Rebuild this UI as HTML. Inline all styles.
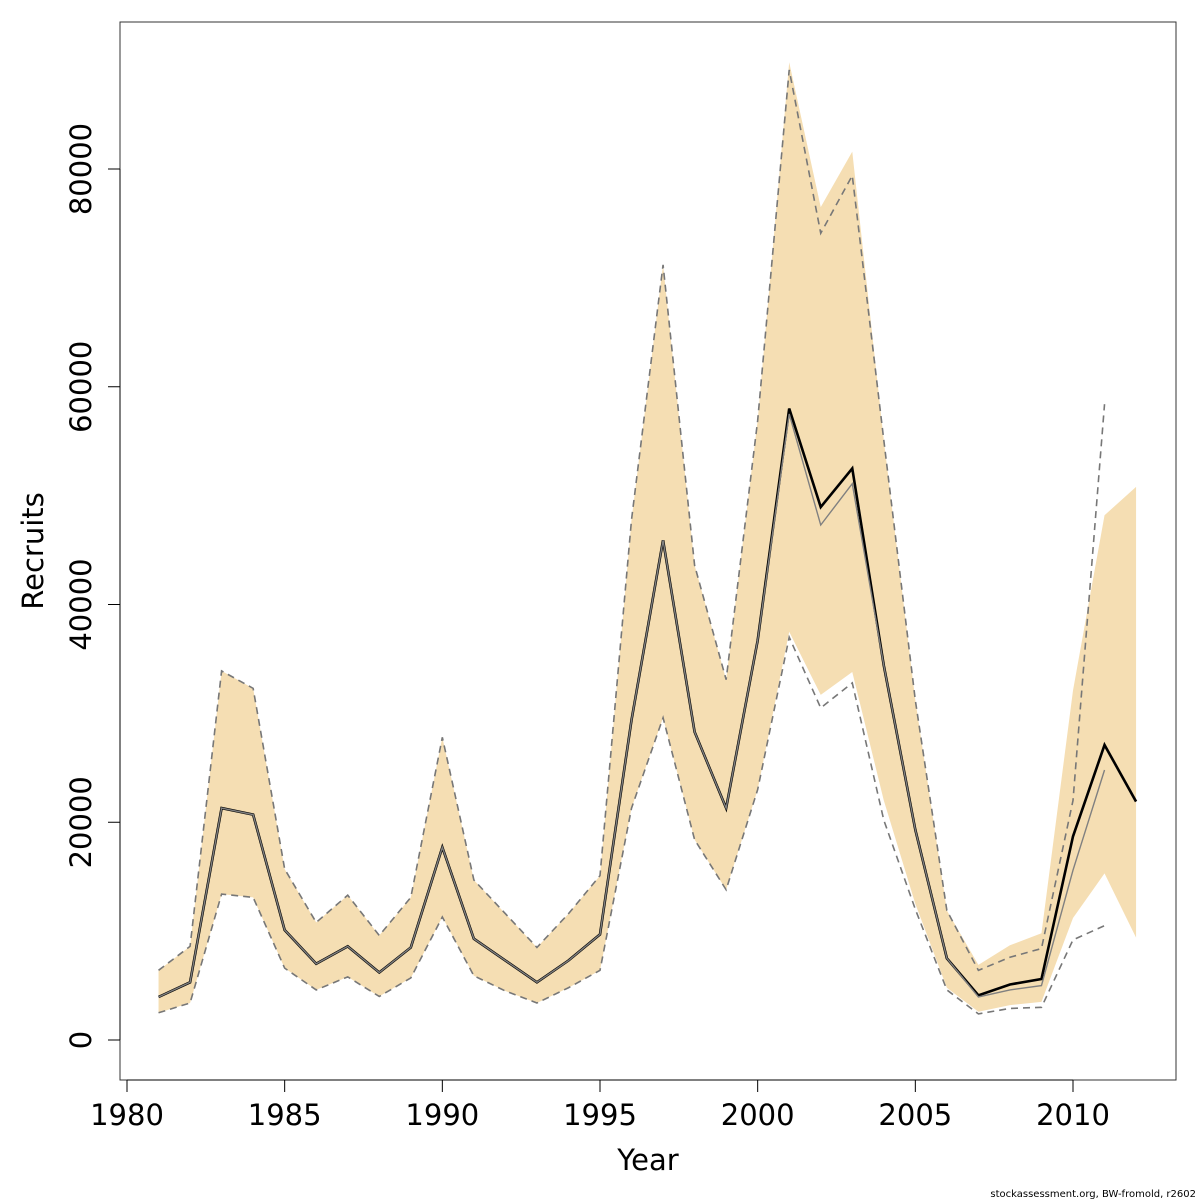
<!DOCTYPE html>
<html><head><meta charset="utf-8"><style>
html,body{margin:0;padding:0;background:#fff;overflow:hidden;}
svg{display:block;}
svg text{font-family:"DejaVu Sans","Liberation Sans",sans-serif;fill:#000;}
</style></head><body>
<svg id="chart" width="1200" height="1200" xmlns="http://www.w3.org/2000/svg"></svg>
<script>
const years=[1981,1982,1983,1984,1985,1986,1987,1988,1989,1990,1991,1992,1993,1994,1995,1996,1997,1998,1999,2000,2001,2002,2003,2004,2005,2006,2007,2008,2009,2010,2011,2012];
const recruits=[3950,5300,21300,20700,10100,7000,8600,6200,8500,17700,9300,7300,5300,7300,9700,29400,45900,28300,21300,36700,58000,48950,52500,34400,19300,7500,4100,5100,5600,18700,27100,21900];
const upper=[6400,8600,33900,32300,15700,10800,13300,9600,13100,27800,14700,11600,8500,11600,15100,47800,71200,43600,33100,56900,89800,76500,81600,55100,31200,11900,6900,8700,9800,32100,48200,50800];
const lower=[2500,3400,13400,13100,6600,4600,5800,4000,5700,11300,5900,4500,3400,4800,6400,21300,29600,18400,13800,23000,37500,31700,33800,22000,12500,4800,2600,3200,3500,11200,15300,9400];
const prevYears=years.slice(0,31);
const prevRecruits=[3950,5300,21300,20700,10100,7000,8600,6200,8500,17700,9300,7300,5300,7300,9700,29400,45900,28300,21300,36700,57500,47300,51100,34400,19300,7500,3950,4600,5000,15600,24800];
const prevUpper=[6400,8600,33900,32300,15700,10800,13300,9600,13100,27800,14700,11600,8500,11600,15100,47800,71200,43600,33100,56900,89100,74100,79400,55100,31200,11900,6400,7600,8400,22000,58400];
const prevLower=[2500,3400,13400,13100,6600,4600,5800,4000,5700,11300,5900,4500,3400,4800,6400,21300,29600,18400,13800,23000,37000,30500,32800,20200,12000,4600,2400,2900,3000,9200,10500];
const xTicks=[1980,1985,1990,1995,2000,2005,2010];
const yTicks=[0,20000,40000,60000,80000];

const NS="http://www.w3.org/2000/svg";
const svg=document.getElementById('chart');
const X=y=>127+(y-1980)*(946/30);
const Y=v=>1040-v*(871/80000);
function el(tag,attrs,parent){const e=document.createElementNS(NS,tag);for(const k in attrs)e.setAttribute(k,attrs[k]);(parent||svg).appendChild(e);return e;}
function pts(xs,vs){return xs.map((x,i)=>X(x)+','+Y(vs[i])).join(' ');}

const band=el('polygon',{points:pts(years,upper)+' '+pts(years.slice().reverse(),lower.slice().reverse()),fill:'#F5DEB3',stroke:'none'});



const pu=el('polyline',{points:pts(prevYears,prevUpper),fill:'none',stroke:'#777','stroke-width':1.6,'stroke-dasharray':'7,5'});


const pl=el('polyline',{points:pts(prevYears,prevLower),fill:'none',stroke:'#777','stroke-width':1.6,'stroke-dasharray':'7,5'});


const cr=el('polyline',{points:pts(years,recruits),fill:'none',stroke:'#000','stroke-width':2.6});


const pr=el('polyline',{points:pts(prevYears,prevRecruits),fill:'none',stroke:'#808080','stroke-width':1.4});



const box=el('rect',{x:120,y:22,width:1056,height:1058,fill:'none',stroke:'#333','stroke-width':1});



const xa=el('line',{x1:X(1980),x2:X(2010),y1:1080,y2:1080,stroke:'#000','stroke-width':1});


xTicks.forEach(t=>{
  el('line',{x1:X(t),x2:X(t),y1:1080,y2:1092,stroke:'#000'});
  const tx=el('text',{x:X(t),y:1125,'text-anchor':'middle','font-size':29});
  tx.textContent=t;
  
  
});
const ya=el('line',{x1:120,x2:120,y1:Y(0),y2:Y(80000),stroke:'#000','stroke-width':1});


yTicks.forEach(t=>{
  el('line',{x1:108,x2:120,y1:Y(t),y2:Y(t),stroke:'#000'});
  const tx=el('text',{x:91,y:Y(t),'text-anchor':'middle','font-size':29,transform:'rotate(-90 91 '+Y(t)+')'});
  tx.textContent=t;
  
  
});
const xt=el('text',{x:648,y:1170,'text-anchor':'middle','font-size':29});
xt.textContent='Year';


const yt=el('text',{x:43,y:551,'text-anchor':'middle','font-size':29,transform:'rotate(-90 43 551)'});
yt.textContent='Recruits';


const cap=el('text',{x:1196,y:1197,'text-anchor':'end','font-size':10});
cap.textContent='stockassessment.org, BW-fromold, r2602';


</script>
</body></html>
